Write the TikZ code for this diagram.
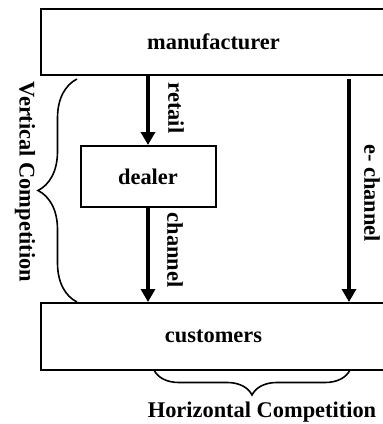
\documentclass[tikz,border=0pt]{standalone}
\usepackage{fontspec}
\setmainfont{Liberation Serif}
\usetikzlibrary{arrows.meta, positioning, calc, decorations.pathreplacing}

\begin{document}
\begin{tikzpicture}[
  x=0.5pt, y=-0.5pt,
  BX/.style ={draw=black, line width=1pt, inner sep=0pt,
              font=\fontsize{11.2}{13}\selectfont\bfseries},
  LB/.style ={font=\fontsize{11.2}{13}\selectfont\bfseries, inner sep=0pt},
  AR/.style ={-{Triangle[width=7pt,length=6.5pt]}, line width=2pt},
  BR/.style ={decorate, decoration={brace, amplitude=#1}, line width=0.8pt}
]
  \useasboundingbox (0,0) rectangle (383,424);

  \node[BX, minimum width=172.5pt, minimum height=33pt] (man) at (213.5,41.5) {manufacturer};
  \node[BX, minimum width=67.5pt, minimum height=30.5pt] (dealer) at (148,176.5) {dealer};
  \node[BX, minimum width=172.5pt, minimum height=33.5pt] (cust) at (213.5,336.5) {customers};
  \coordinate (eTop) at (349,79);

  \draw[AR] (man.south -| dealer.north) -- (dealer.north);
  \draw[AR] (dealer.south) -- (cust.north -| dealer.south);
  \draw[AR] (eTop) -- (eTop |- cust.north);

  \node[LB, rotate=-90] (lretail) at (176,108) {retail};
  \node[LB, rotate=-90] (lchan) at (175,250) {channel};
  \node[LB, rotate=-90] (lechan) at (372,193) {e- channel};
  \node[LB, rotate=-90] (lvert) at (25,182) {Vertical Competition};
  \node[LB] (lhor) at (262,412) {Horizontal Competition};

  % braces
  \coordinate (vTop) at (77,79);
  \coordinate (vBot) at (77,302);
  \draw[BR=19.5pt] (vBot) -- (vTop);
  \coordinate (hL) at (154,370);
  \coordinate (hR) at (350,370);
  \draw[BR=12.5pt] (hR) -- (hL);
\end{tikzpicture}
\end{document}
